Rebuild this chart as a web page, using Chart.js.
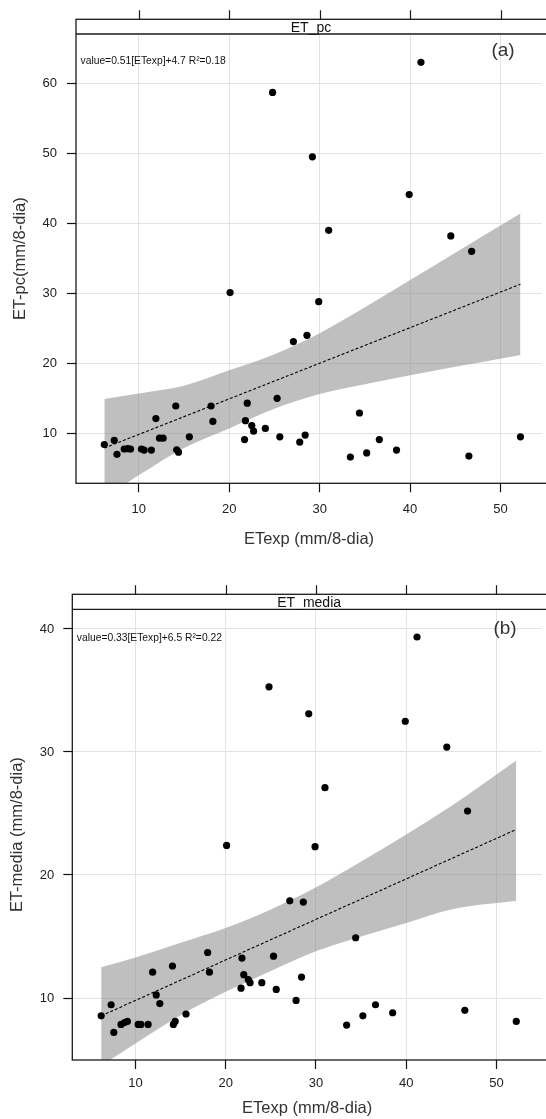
<!DOCTYPE html>
<html>
<head>
<meta charset="utf-8">
<script src="https://cdn.jsdelivr.net/npm/chart.js@4.4.1/dist/chart.umd.min.js"></script>
<style>
  html, body { margin: 0; padding: 0; background: #fff; overflow: hidden; }
  canvas { display: block; }
</style>
</head>
<body>
<canvas id="pc" width="546" height="560"></canvas>
<canvas id="media" width="546" height="559"></canvas>
<script>
// ETexp shared by both panels (mm/8-dia)
const etExp = [6.2, 7.3, 7.6, 8.4, 8.8, 9.1, 10.3, 10.6, 11.4, 11.9, 12.3, 12.7, 14.1, 14.2, 14.4, 15.6,
  18.0, 18.2, 20.1, 21.7, 21.8, 22.0, 22.5, 22.7, 24.0, 24.8, 25.3, 25.6, 27.1, 27.8, 28.4, 28.6,
  29.2, 29.9, 31.0, 33.4, 34.4, 35.2, 36.6, 38.5, 39.9, 41.2, 44.5, 46.5, 46.8, 52.2];
const etPc = [8.4, 9.0, 7.0, 7.75, 7.8, 7.75, 7.75, 7.6, 7.6, 12.1, 9.3, 9.3, 13.9, 7.65, 7.3, 9.5,
  13.9, 11.7, 30.1, 9.1, 11.8, 14.3, 11.1, 10.3, 10.7, 58.7, 15.0, 9.5, 23.1, 8.75, 9.75, 24.0,
  49.5, 28.8, 39.0, 6.6, 12.9, 7.2, 9.1, 7.6, 44.1, 63.0, 38.2, 6.75, 36.0, 9.5];
const etMedia = [8.55, 9.45, 7.2, 7.85, 8.0, 8.1, 7.85, 7.85, 7.85, 12.1, 10.25, 9.55, 12.6, 7.85, 8.1, 8.7,
  13.7, 12.1, 22.4, 10.8, 13.25, 11.9, 11.5, 11.25, 11.25, 35.3, 13.4, 10.7, 17.9, 9.8, 11.7, 17.8,
  33.1, 22.3, 27.1, 7.8, 14.9, 8.55, 9.45, 8.8, 32.5, 39.35, 30.4, 9.0, 25.2, 8.1];

// fitted line ends and confidence band
const fitX = [6.2, 52.2];
const pcFit = [7.9, 31.3];
const mediaFit = [8.55, 23.7];
const bandX = [6.2, 10, 15, 20, 25, 30, 35, 40, 45, 52.2];
const pcUpper = [14.9, 15.7, 16.8, 19.0, 21.3, 24.3, 28.0, 31.9, 35.8, 41.4];
const pcLower = [0.8, 4.0, 7.9, 10.7, 13.5, 15.6, 17.0, 18.3, 19.5, 21.2];
const mediaUpper = [12.5, 13.3, 14.5, 15.7, 17.2, 19.0, 21.1, 23.3, 25.6, 29.3];
const mediaLower = [4.5, 6.3, 8.6, 10.5, 12.2, 13.8, 15.0, 16.1, 17.2, 17.9];

const xTicks = [10, 20, 30, 40, 50];
const pcTicks = [10, 20, 30, 40, 50, 60];
const mediaTicks = [10, 20, 30, 40];

const FONT = "'Liberation Sans', Arial, sans-serif";

function pts(xs, ys) {
  return xs.map((x, i) => ({ x: x, y: ys[i] }));
}

// lattice style strip, frame, equation and panel letter
const panelDecor = {
  id: "panelDecor",
  afterDraw(chart, args, opts) {
    const { ctx, chartArea: a, scales } = chart;
    const st = opts.stripTop;
    ctx.save();
    ctx.fillStyle = "#fff";
    ctx.fillRect(a.left, st, a.right - a.left + 10, a.top - st);
    ctx.strokeStyle = "#1a1a1a";
    ctx.lineWidth = 1.3;
    ctx.strokeRect(a.left, st, a.right - a.left + 10, a.bottom - st);
    ctx.beginPath();
    ctx.moveTo(a.left, a.top);
    ctx.lineTo(a.right + 10, a.top);
    ctx.stroke();

    // ticks on top of the strip
    ctx.lineWidth = 1.2;
    ctx.beginPath();
    scales.x.ticks.forEach((t) => {
      const px = Math.round(scales.x.getPixelForValue(t.value)) + 0.5;
      ctx.moveTo(px, st - 9);
      ctx.lineTo(px, st);
    });
    ctx.stroke();

    ctx.fillStyle = "#111";
    ctx.font = "14px " + FONT;
    ctx.textAlign = "center";
    ctx.textBaseline = "alphabetic";
    ctx.fillText(opts.strip, (a.left + a.right) / 2 + 2, a.top - 2);

    ctx.textAlign = "left";
    ctx.textBaseline = "middle";
    ctx.font = "10.3px " + FONT;
    ctx.fillText(opts.eq, a.left + 4.5, a.top + opts.eqDy);

    ctx.fillStyle = "#333";
    ctx.textAlign = "center";
    ctx.font = "19px " + FONT;
    ctx.fillText(opts.letter, opts.letterX, a.top + opts.letterDy);
    ctx.restore();
  },
};

function makePanel(id, p) {
  return new Chart(document.getElementById(id), {
    type: "scatter",
    data: {
      datasets: [
        { label: "obs", data: pts(etExp, p.y), pointRadius: 3.6, pointBackgroundColor: "#000",
          pointBorderColor: "#000", pointBorderWidth: 0, order: 0 },
        { label: "fit", data: pts(fitX, p.fit), showLine: true, borderColor: "#000", borderWidth: 1.1,
          borderDash: [3, 2], pointRadius: 0, order: 1 },
        { label: "upper", data: pts(bandX, p.upper), showLine: true, borderColor: "rgba(0,0,0,0)",
          cubicInterpolationMode: "monotone", pointRadius: 0, fill: "+1",
          backgroundColor: "rgba(128,128,128,0.5)", order: 2 },
        { label: "lower", data: pts(bandX, p.lower), showLine: true, borderColor: "rgba(0,0,0,0)",
          cubicInterpolationMode: "monotone", pointRadius: 0, order: 3 },
      ],
    },
    options: {
      responsive: false,
      animation: false,
      events: [],
      layout: { padding: { top: p.top, left: 0, right: 0, bottom: 0 } },
      plugins: {
        legend: { display: false },
        tooltip: { enabled: false },
        panelDecor: { stripTop: p.stripTop, strip: p.strip, eq: p.eq, eqDy: p.eqDy,
          letter: p.letter, letterX: p.letterX, letterDy: p.letterDy },
      },
      scales: {
        x: {
          type: "linear",
          min: p.xMin,
          max: p.xMax,
          afterBuildTicks: (s) => { s.ticks = xTicks.map((v) => ({ value: v })); },
          afterFit: (s) => { s.height = p.xH; },
          grid: { color: "#e4e4e4", tickColor: "#111", tickLength: 9, tickWidth: 1.2 },
          border: { display: false },
          ticks: { padding: p.xTickPad, color: "#222", maxRotation: 0, font: { family: FONT, size: 13 } },
          title: { display: true, text: "ETexp (mm/8-dia)", color: "#333",
            font: { family: FONT, size: 16.5 }, padding: { top: 0, bottom: p.xTitlePad } },
        },
        y: {
          type: "linear",
          min: p.yMin,
          max: p.yMax,
          afterBuildTicks: (s) => { s.ticks = p.yTicks.map((v) => ({ value: v })); },
          afterFit: (s) => { s.width = p.yW; },
          grid: { color: "#e4e4e4", tickColor: "#111", tickLength: 9, tickWidth: 1.2 },
          border: { display: false },
          ticks: { padding: p.yTickPad, color: "#222", font: { family: FONT, size: 13 } },
          title: { display: true, text: p.yTitle, color: "#333",
            font: { family: FONT, size: 16.5 }, padding: { top: p.yTitlePad, bottom: 0 } },
        },
      },
    },
    plugins: [panelDecor],
  });
}

makePanel("pc", {
  y: etPc, fit: pcFit, upper: pcUpper, lower: pcLower, yTicks: pcTicks,
  top: 34, stripTop: 19.3, xH: 76.7, yW: 76,
  xMin: 3.07, xMax: 54.58, yMin: 2.86, yMax: 67.04,
  xTickPad: 9, yTickPad: 10, xTitlePad: 10.4, yTitlePad: 10.1,
  yTitle: "ET-pc(mm/8-dia)", strip: "ET_pc",
  eq: "value=0.51[ETexp]+4.7 R\u00b2=0.18", eqDy: 27.5,
  letter: "(a)", letterX: 503, letterDy: 17,
});

makePanel("media", {
  y: etMedia, fit: mediaFit, upper: mediaUpper, lower: mediaLower, yTicks: mediaTicks,
  top: 49.3, stripTop: 34.3, xH: 59, yW: 72.3,
  xMin: 3.0, xMax: 55.05, yMin: 4.96, yMax: 41.6,
  xTickPad: 7, yTickPad: 9, xTitlePad: 1.1, yTitlePad: 7.6,
  yTitle: "ET-media (mm/8-dia)", strip: "ET_media",
  eq: "value=0.33[ETexp]+6.5 R\u00b2=0.22", eqDy: 28.7,
  letter: "(b)", letterX: 505, letterDy: 19.4,
});
</script>
</body>
</html>
